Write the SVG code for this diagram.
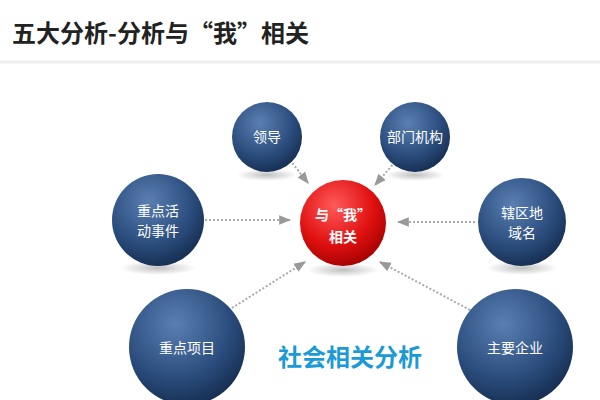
<svg xmlns="http://www.w3.org/2000/svg" width="600" height="400" viewBox="0 0 600 400">
<defs>
<radialGradient id="b" cx="0.4" cy="0.3" r="0.75"><stop offset="0" stop-color="#5a7fb0"/><stop offset="0.6" stop-color="#2c4f80"/><stop offset="1" stop-color="#142b4d"/></radialGradient>
<radialGradient id="r" cx="0.4" cy="0.3" r="0.75"><stop offset="0" stop-color="#ff5a5a"/><stop offset="0.6" stop-color="#e01010"/><stop offset="1" stop-color="#a00000"/></radialGradient>
<radialGradient id="sh" cx="0.5" cy="0.5" r="0.5"><stop offset="0" stop-color="#000" stop-opacity="0.25"/><stop offset="1" stop-color="#000" stop-opacity="0"/></radialGradient>
<marker id="a" viewBox="0 0 10 10" refX="9" refY="5" markerWidth="6" markerHeight="6" orient="auto"><path d="M0,1 L10,5 L0,9 z" fill="#999"/></marker>
</defs>
<style>
.t{font-family:"Noto Sans CJK SC",sans-serif;fill:#fff;font-size:14px;text-anchor:middle}
.c{stroke:#aaa;stroke-width:2;stroke-dasharray:2 2;fill:none;marker-end:url(#a)}
</style>
<rect width="600" height="400" fill="#fff"/>
<text x="12" y="42" font-family="Noto Sans CJK SC,sans-serif" font-size="24" font-weight="bold" fill="#222">五大分析-分析与“我”相关</text>
<line x1="0" y1="62" x2="600" y2="62" stroke="#eee" stroke-width="3"/>
<g id="connectors">
<path class="c" d="M290,160 L308,183"/>
<path class="c" d="M395,162 L375,185"/>
<path class="c" d="M205,220 L290,220"/>
<path class="c" d="M475,222 L398,222"/>
<path class="c" d="M232,308 L305,262"/>
<path class="c" d="M470,310 L380,262"/>
</g>
<g id="n1"><ellipse cx="267" cy="175" rx="30" ry="6" fill="url(#sh)"/><circle cx="267" cy="137" r="35" fill="url(#b)"/><text class="t" x="267" y="142" font-size="13">领导</text></g>
<g id="n2"><ellipse cx="415" cy="175" rx="30" ry="6" fill="url(#sh)"/><circle cx="415" cy="137" r="35" fill="url(#b)"/><text class="t" x="415" y="142" font-size="13">部门机构</text></g>
<g id="n3"><ellipse cx="158" cy="268" rx="38" ry="7" fill="url(#sh)"/><circle cx="158" cy="220" r="46" fill="url(#b)"/><text class="t" x="158" y="216">重点活</text><text class="t" x="158" y="236">动事件</text></g>
<g id="n4"><ellipse cx="343" cy="270" rx="36" ry="7" fill="url(#sh)"/><circle cx="343" cy="223" r="43" fill="url(#r)"/><text class="t" x="343" y="220" font-weight="bold" font-size="16">与“我”</text><text class="t" x="343" y="242" font-weight="bold" font-size="16">相关</text></g>
<g id="n5"><ellipse cx="522" cy="268" rx="36" ry="7" fill="url(#sh)"/><circle cx="522" cy="222" r="44" fill="url(#b)"/><text class="t" x="522" y="218">辖区地</text><text class="t" x="522" y="238">域名</text></g>
<g id="n6"><circle cx="187" cy="347" r="58" fill="url(#b)"/><text class="t" x="187" y="353" font-size="16">重点项目</text></g>
<g id="n7"><circle cx="515" cy="347" r="58" fill="url(#b)"/><text class="t" x="515" y="353" font-size="16">主要企业</text></g>
<text x="350" y="366" text-anchor="middle" font-family="Noto Sans CJK SC,sans-serif" font-size="24" font-weight="bold" fill="#1a9ad6">社会相关分析</text>
</svg>
